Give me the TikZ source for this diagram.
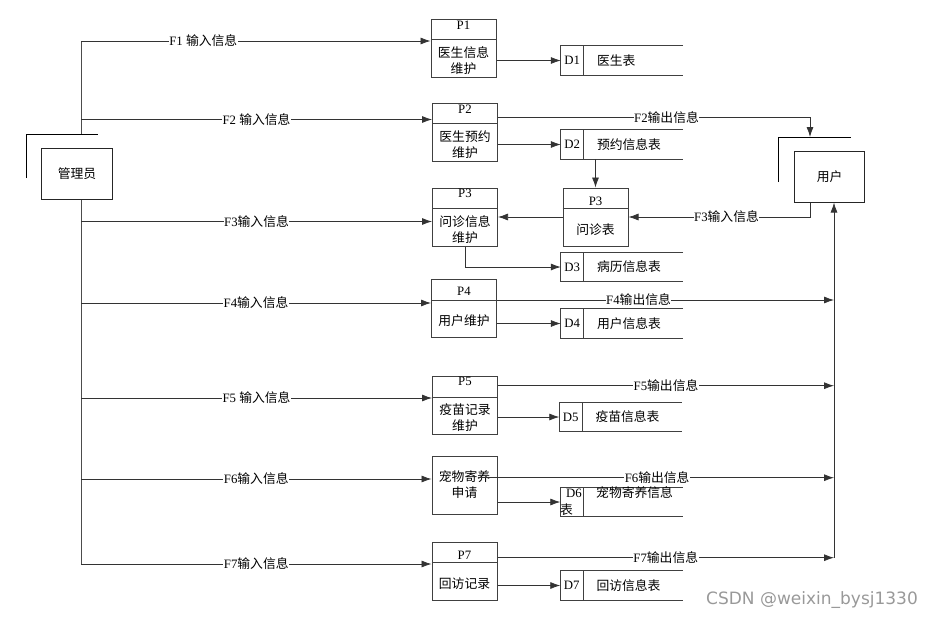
\documentclass[tikz,border=0pt]{standalone}
\usepackage{fontspec}
\setmainfont{Liberation Serif}
\newfontfamily\cjk{Noto Sans CJK SC}
\newfontfamily\wmfont{DejaVu Sans}
\usetikzlibrary{arrows.meta,calc}

\newcommand{\zh}[1]{{\cjk #1}}
% process box: name, centre, header offset, id, body
\newcommand{\procbox}[5]{%
  \node[proc] (#1) at (#2) {};
  \draw[divider] ([yshift=-21pt]#1.north west) -- ([yshift=-21pt]#1.north east);
  \node (#1id) at ([yshift=-#3pt]#1.north) {#4};
  \node[align=center] (#1txt) at ([yshift=-42pt]#1.north) {#5};
}
% data store: name, centre, id, text
\newcommand{\dstore}[4]{%
  \node[store] (#1) at (#2) {};
  \draw[divider] (#1.north east) -- (#1.north west) -- (#1.south west) -- (#1.south east);
  \draw[divider] ([xshift=23pt]#1.north west) -- ([xshift=23pt]#1.south west);
  \node (#1id) at ([xshift=11.5pt]#1.west) {#3};
  \node[anchor=west] (#1txt) at ([xshift=35pt]#1.west) {\zh{#4}};
}

\begin{document}
\begin{tikzpicture}[x=1pt,y=-1pt,
  every node/.style={font=\fontsize{12.8}{16}\selectfont,inner sep=1pt},
  proc/.style={draw=black!75,line width=1pt,minimum width=65pt,minimum height=58pt},
  divider/.style={draw=black!75,line width=1pt},
  store/.style={minimum width=122pt,minimum height=29.5pt,inner sep=0pt},
  ent/.style={draw=black!85,line width=1pt,minimum width=70.5pt,minimum height=51pt},
  bracket/.style={draw=black,line width=0.8pt},
  plain/.style={draw=black!70,line width=0.9pt},
  flow/.style={draw=black!80,line width=0.75pt,-{Latex[length=10pt,width=7pt]}},
  lbl/.style={fill=white,inner sep=0.5pt}]
\useasboundingbox (0,0) rectangle (933,621);

% external entities
\node[ent] (admin) at (77,173.5) {\zh{管理员}};
\draw[bracket] (26,178) -- (26,134) -- (98,134);
\node[ent] (user) at (829.6,176.6) {\zh{用户}};
\draw[bracket] (778,182) -- (778,137) -- (851,137);

% processes
\procbox{p1}{463.5,48}{7}{P1}{\zh{医生信息}\\\zh{维护}}
\procbox{p2}{465,132}{7}{P2}{\zh{医生预约}\\\zh{维护}}
\procbox{p3a}{465,217}{6}{P3}{\zh{问诊信息}\\\zh{维护}}
\procbox{p3b}{595.5,217}{14}{P3}{\zh{问诊表}}
\procbox{p4}{464,308.5}{12}{P4}{\zh{用户维护}}
\procbox{p5}{465,405.5}{5.5}{P5}{\zh{疫苗记录}\\\zh{维护}}
\node[proc] (p6) at (464.5,485.5) {};
\node[align=center] (p6txt) at ([yshift=-29pt]p6.north) {\zh{宠物寄养}\\\zh{申请}};
\procbox{p7}{464.5,571}{13.5}{P7}{\zh{回访记录}}

% data stores
\dstore{d1}{622,60.5}{D1}{医生表}
\dstore{d2}{622,144.5}{D2}{预约信息表}
\dstore{d3}{622,267}{D3}{病历信息表}
\dstore{d4}{622,323.5}{D4}{用户信息表}
\dstore{d5}{620.5,417}{D5}{疫苗信息表}
\node[store] (d6) at (621.5,502) {};
\draw[divider] (d6.north east) -- (d6.north west) -- (d6.south west) -- (d6.south east);
\draw[divider] ([xshift=23pt]d6.north west) -- ([xshift=23pt]d6.south west);
\node (d6id) at (574,493.5) {D6};
\node (d6tail) at (566.5,509.5) {\zh{表}};
\node[anchor=west] (d6txt) at (595,493) {\zh{宠物寄养信息}};
\dstore{d7}{621.5,585.5}{D7}{回访信息表}

% admin spine and inputs
\coordinate (a1) at (81,41);
\coordinate (a2) at (81,119.5);
\coordinate (a3) at (81,221.5);
\coordinate (a4) at (81,303);
\coordinate (a5) at (81,398);
\coordinate (a6) at (81,479);
\coordinate (a7) at (81,564);
\coordinate (atop) at (81,134);
\draw[plain] (a1) -- (atop);
\draw[plain] (admin.south -| a1) -- (a7);
\draw[flow] (a1) -- (a1 -| p1.west) node[lbl,pos=0.35] {F1 \zh{输入信息}};
\draw[flow] (a2) -- (a2 -| p2.west) node[lbl,midway] {F2 \zh{输入信息}};
\draw[flow] (a3) -- (a3 -| p3a.west) node[lbl,midway] {F3\zh{输入信息}};
\draw[flow] (a4) -- (a4 -| p4.west) node[lbl,midway] {F4\zh{输入信息}};
\draw[flow] (a5) -- (a5 -| p5.west) node[lbl,midway] {F5 \zh{输入信息}};
\draw[flow] (a6) -- (a6 -| p6.west) node[lbl,midway] {F6\zh{输入信息}};
\draw[flow] (a7) -- (a7 -| p7.west) node[lbl,midway] {F7\zh{输入信息}};

% process to store
\draw[flow] (p1.east |- d1.west) -- (d1.west);
\draw[flow] (p2.east |- d2.west) -- (d2.west);
\draw[flow] (d2.south -| p3b.north) -- (p3b.north);
\draw[flow] (p3b.west) -- (p3a.east);
\draw[flow] (p3a.south) |- (d3.west);
\draw[flow] (p4.east |- d4.west) -- (d4.west);
\draw[flow] (p5.east |- d5.west) -- (d5.west);
\draw[flow] (p6.east |- d6.west) -- (d6.west);
\draw[flow] (p7.east |- d7.west) -- (d7.west);

% user side
\coordinate (uout) at ([xshift=-19.6pt]user.south);
\coordinate (uin) at ([xshift=4.4pt]user.south);
\coordinate (utop) at (810,137);
\coordinate (c4) at (834,300);
\coordinate (c5) at (834,385.7);
\coordinate (c6) at (834,477.7);
\coordinate (c7) at (834,557.7);
\draw[flow] ([yshift=14.3pt]p2.east) -| (utop) node[lbl,pos=0.27] {F2\zh{输出信息}};
\draw[flow] (uout) |- (p3b.east) node[lbl,pos=0.73] {F3\zh{输入信息}};
\draw[flow] ([yshift=8.5pt]p4.east) -- (c4) node[lbl,pos=0.42] {F4\zh{输出信息}};
\draw[flow] ([yshift=19.8pt]p5.east) -- (c5) node[lbl,midway] {F5\zh{输出信息}};
\draw[flow] ([xshift=-20pt,yshift=7.8pt]p6.east) -- (c6) node[lbl,pos=0.504] {F6\zh{输出信息}};
\draw[flow] ([yshift=13.3pt]p7.east) -- (c7) node[lbl,midway] {F7\zh{输出信息}};
\draw[flow] (c7) -- (uin);

% watermark
\node[text=black!40,font=\wmfont\fontsize{17}{20}\selectfont] (mark) at (812,600.5) {CSDN @weixin\_bysj1330};
\end{tikzpicture}
\end{document}
